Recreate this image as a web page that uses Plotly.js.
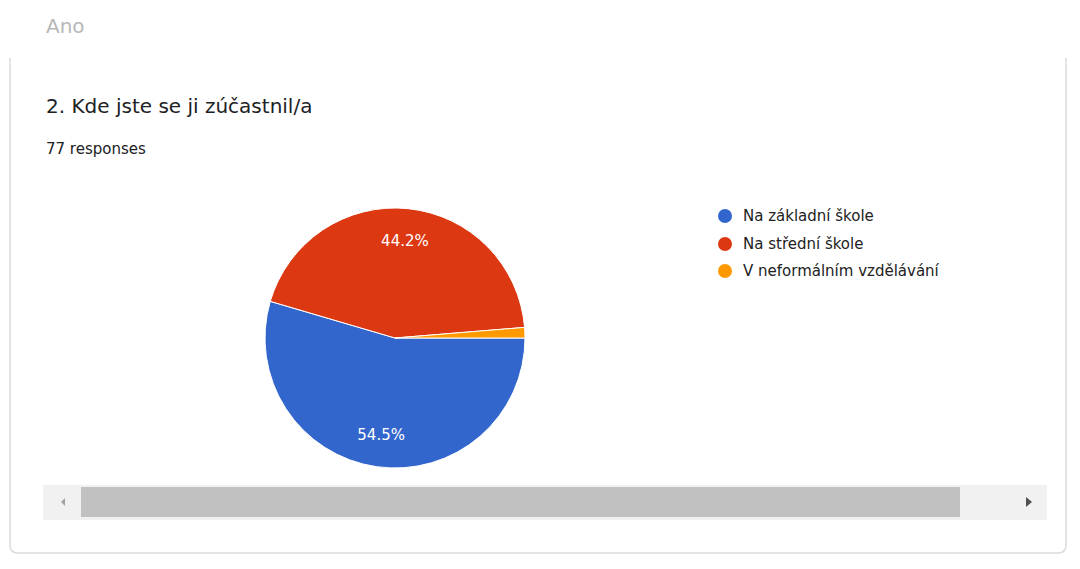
<!DOCTYPE html>
<html>
<head>
<meta charset="utf-8">
<script src="https://cdn.plot.ly/plotly-3.0.1.min.js"></script>
<style>
html,body{margin:0;padding:0;background:#fff;}
#chart{width:1080px;height:569px;}
</style>
</head>
<body>
<div id="chart"></div>
<script>
const categories = ["Na základní škole", "Na střední škole", "V neformálním vzdělávání"];
const responses = [42, 34, 1];
const colors = ["#3366cc", "#dc3912", "#ff9900"];
const pageLabel = "Ano";
const questionTitle = "2. Kde jste se ji zúčastnil/a";
const responseCount = "77 responses";

const W = 1080, H = 569;
const px = x => x / W;
const py = y => 1 - y / H;

const shapes = [
  {type:'path', xref:'paper', yref:'paper',
   path:`M ${px(10)} ${py(58)} L ${px(10)} ${py(545)} Q ${px(10)} ${py(553)} ${px(18)} ${py(553)} L ${px(1058)} ${py(553)} Q ${px(1066)} ${py(553)} ${px(1066)} ${py(545)} L ${px(1066)} ${py(58)}`,
   line:{color:'#dadce0', width:1.5}},
  {type:'rect', xref:'paper', yref:'paper', x0:px(43), x1:px(1047), y0:py(520), y1:py(485),
   fillcolor:'#f1f1f1', line:{width:0}},
  {type:'rect', xref:'paper', yref:'paper', x0:px(81), x1:px(960), y0:py(517), y1:py(487),
   fillcolor:'#c1c1c1', line:{width:0}},
  {type:'path', xref:'paper', yref:'paper',
   path:`M ${px(65)} ${py(498)} L ${px(61)} ${py(502)} L ${px(65)} ${py(506)} Z`,
   fillcolor:'#a3a3a3', line:{width:0}},
  {type:'path', xref:'paper', yref:'paper',
   path:`M ${px(1026)} ${py(497)} L ${px(1032)} ${py(502)} L ${px(1026)} ${py(507)} Z`,
   fillcolor:'#505050', line:{width:0}}
];

const annotations = [
  {text: pageLabel, x:px(44), y:py(26), xref:'paper', yref:'paper', xanchor:'left', yanchor:'middle',
   showarrow:false, font:{family:'DejaVu Sans', size:20, color:'#b8b8b8'}},
  {text: questionTitle, x:px(44), y:py(106), xref:'paper', yref:'paper', xanchor:'left', yanchor:'middle',
   showarrow:false, font:{family:'DejaVu Sans', size:20, color:'#202124'}},
  {text: responseCount, x:px(44), y:py(149), xref:'paper', yref:'paper', xanchor:'left', yanchor:'middle',
   showarrow:false, font:{family:'DejaVu Sans', size:15, color:'#202124'}}
];

const legendY = [216, 244, 271];
categories.forEach((c, i) => {
  shapes.push({type:'circle', xref:'paper', yref:'paper',
    x0:px(718), x1:px(732), y0:py(legendY[i]-7), y1:py(legendY[i]+7),
    fillcolor:colors[i], line:{width:0}});
  annotations.push({text:c, x:px(741), y:py(legendY[i]), xref:'paper', yref:'paper',
    xanchor:'left', yanchor:'middle', showarrow:false,
    font:{family:'DejaVu Sans', size:15, color:'#222222'}});
});

const pieDomain = {x:[px(265), px(525)], y:[py(468), py(208)]};

const data = [
  {
    type:'pie',
    labels: categories,
    values: responses,
    marker:{colors: colors, line:{color:'#ffffff', width:1}},
    sort:false,
    direction:'clockwise',
    rotation:90,
    textinfo:'none',
    hoverinfo:'label+value+percent',
    showlegend:false,
    domain: pieDomain
  },
  {
    // transparent ring used only to place the percentage labels further out
    type:'pie',
    labels: categories,
    values: responses,
    hole:0.5,
    marker:{colors:['rgba(0,0,0,0)','rgba(0,0,0,0)','rgba(0,0,0,0)'], line:{width:0}},
    sort:false,
    direction:'clockwise',
    rotation:90,
    texttemplate:['%{percent:.1%}','%{percent:.1%}',''],
    textposition:'inside',
    insidetextorientation:'horizontal',
    textfont:{family:'DejaVu Sans', size:15, color:'#ffffff'},
    hoverinfo:'skip',
    showlegend:false,
    domain: pieDomain
  }
];

const layout = {
  width:W, height:H,
  margin:{l:0, r:0, t:0, b:0},
  paper_bgcolor:'#ffffff',
  plot_bgcolor:'#ffffff',
  showlegend:false,
  shapes: shapes,
  annotations: annotations
};

Plotly.newPlot('chart', data, layout, {displayModeBar:false, staticPlot:true});
</script>
</body>
</html>
